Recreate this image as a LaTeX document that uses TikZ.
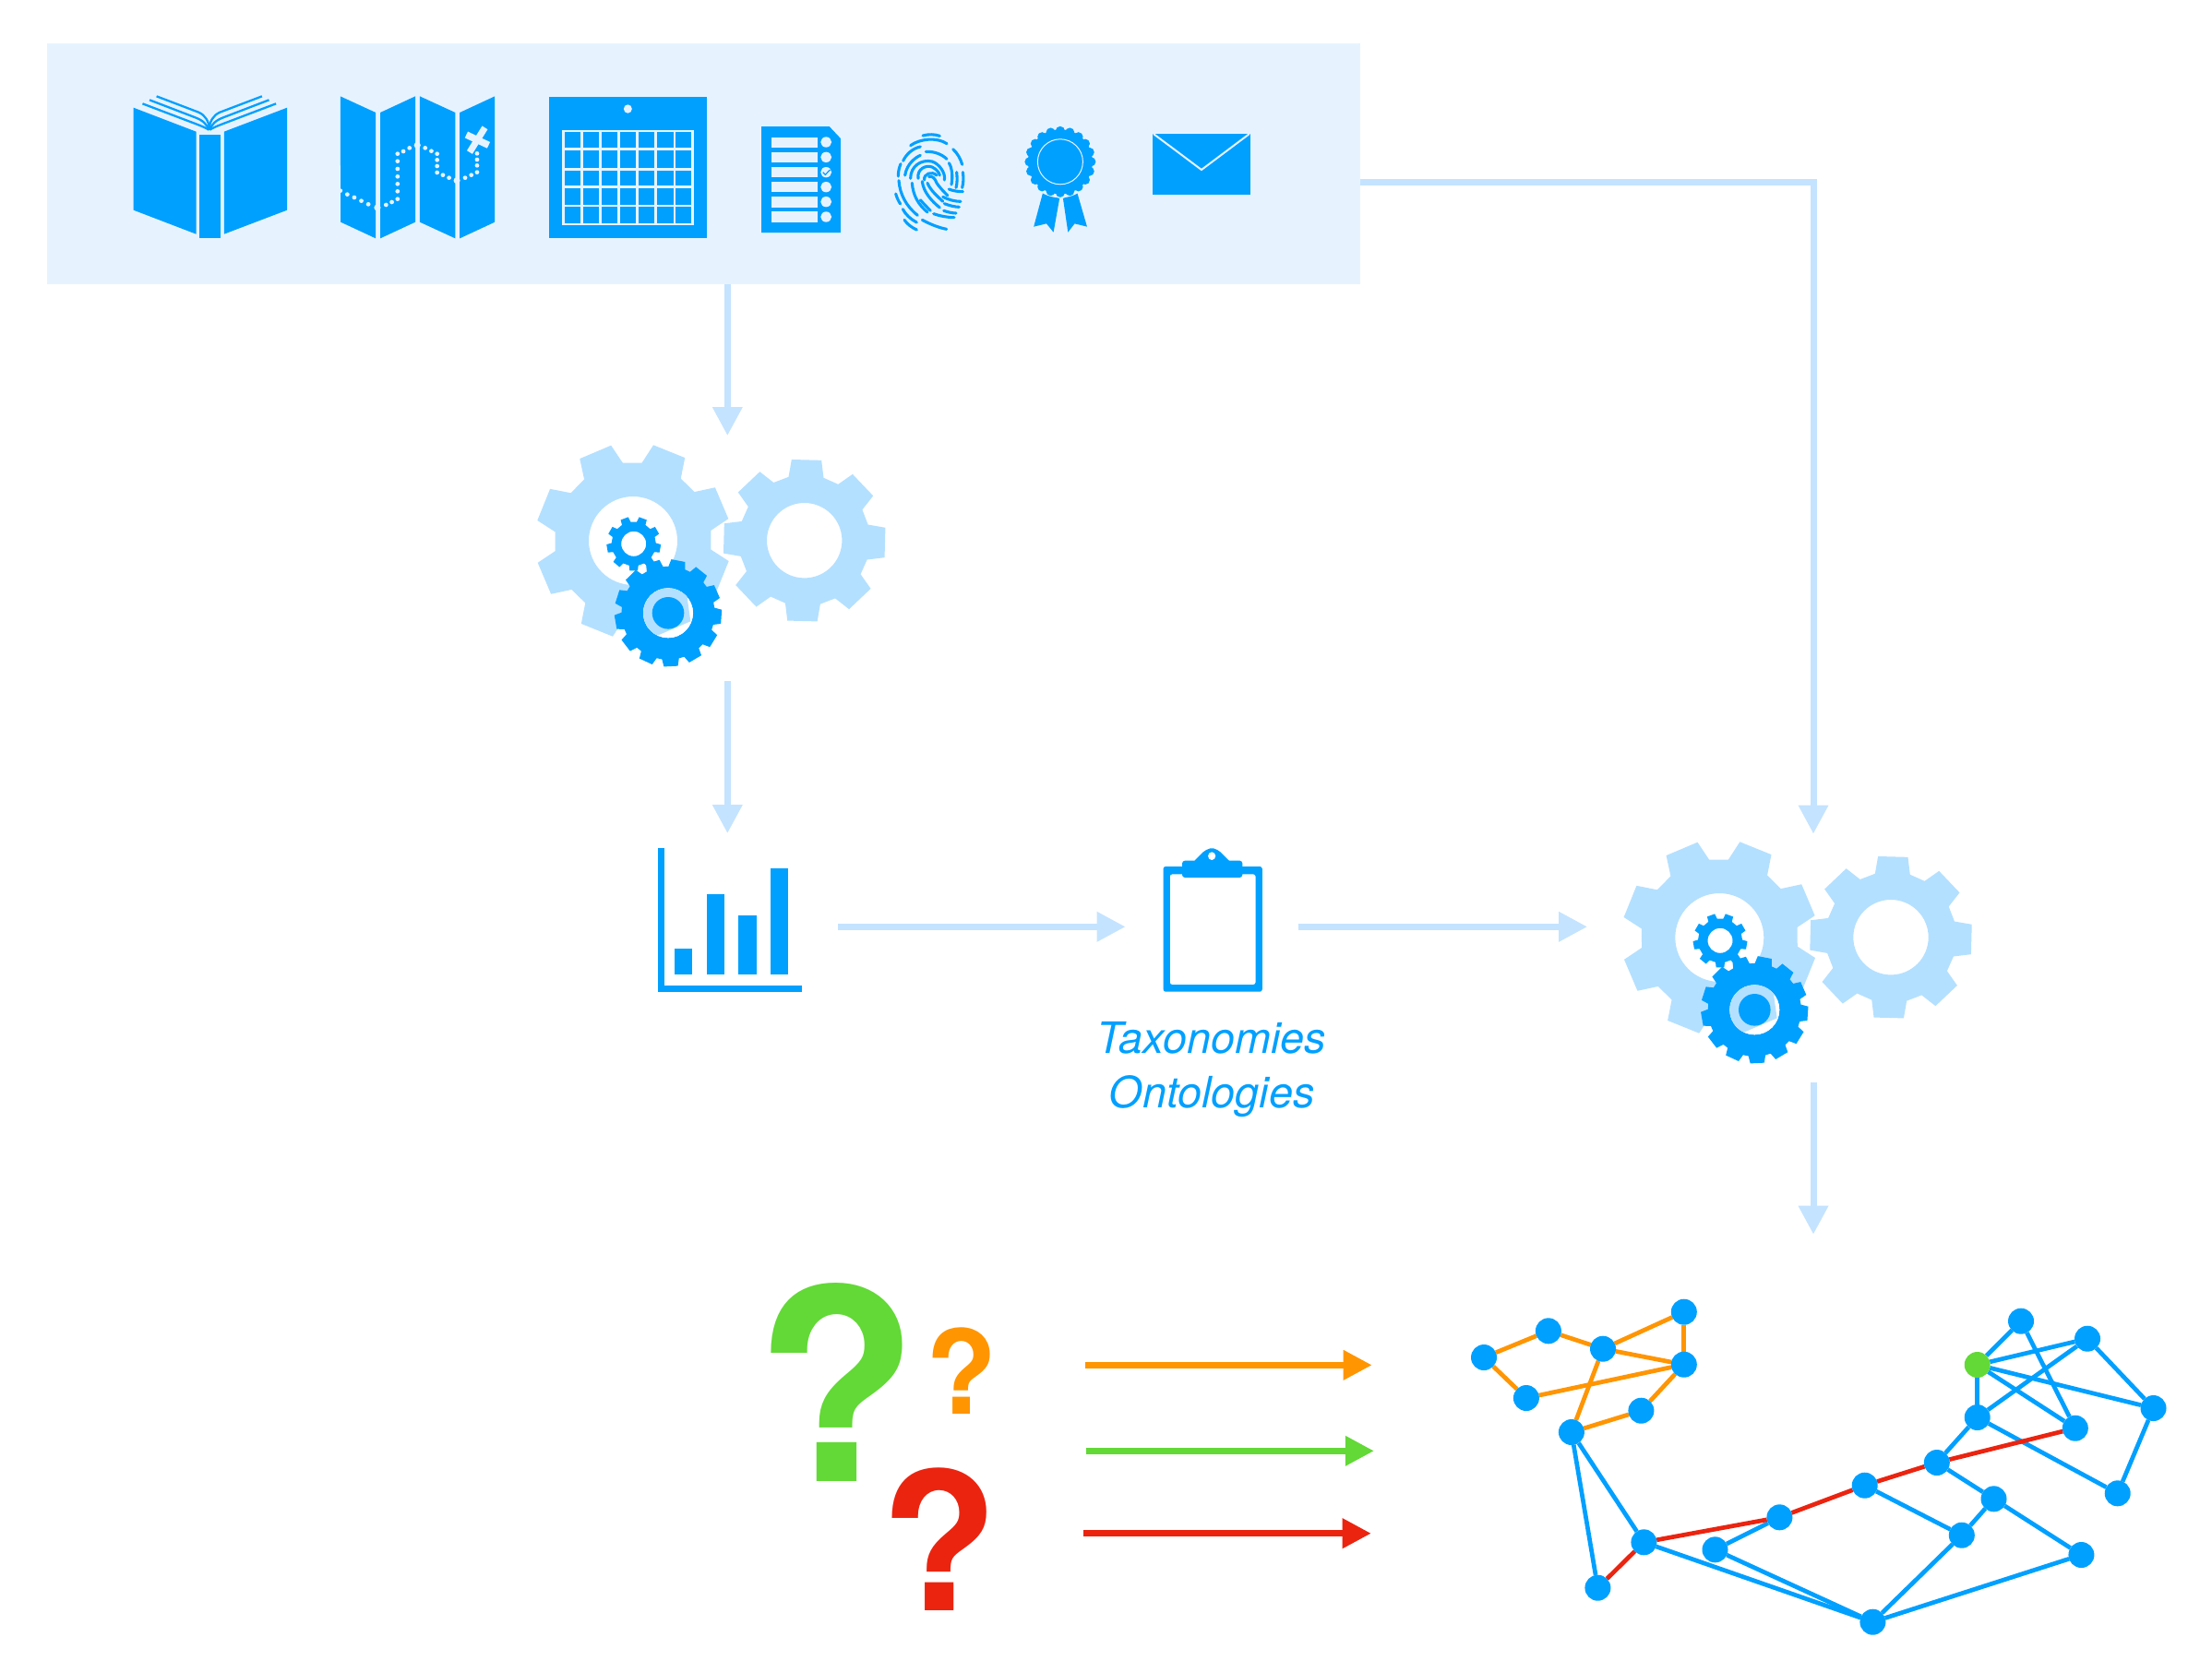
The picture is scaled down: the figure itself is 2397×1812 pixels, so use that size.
\documentclass[tikz,border=0pt]{standalone}
\usepackage{fontspec}
\setmainfont{TeX Gyre Heros}
\usetikzlibrary{arrows.meta,backgrounds}
\definecolor{dk}{HTML}{00A0FF}
\definecolor{pan}{HTML}{E6F3FF}
\definecolor{lg}{HTML}{B4E0FF}
\definecolor{la}{HTML}{C4E3FF}
\definecolor{og}{HTML}{FF9500}
\definecolor{gr}{HTML}{62D936}
\definecolor{rd}{HTML}{EB2410}
\tikzset{
  hitbox/.style={inner sep=0pt,outer sep=0pt,draw=none,fill=none},
  lightarrow/.style={draw=la,line width=7pt,-{Triangle[length=31pt,width=31pt]}},
  colarrow/.style={line width=7pt,-{Triangle[length=31pt,width=31pt]}},
  gnode/.style={circle,fill=dk,minimum size=28pt,inner sep=0pt,outer sep=0pt},
  gedge/.style={line width=4.7pt},
  qmark/.style={inner sep=0pt,outer sep=0pt,anchor=center},
  capt/.style={text=dk,anchor=base,inner sep=0pt,font=\fontsize{46.8}{50}\selectfont\itshape},
  fp/.style={draw=dk,line width=3.1pt,line cap=round},
  zoomA/.style={shift={(100,70)},xscale=0.44643,yscale=0.33333},
  zoomB/.style={shift={(780,110)},xscale=0.38265,yscale=0.33333},
  zoomC/.style={shift={(680,890)},xscale=0.5102,yscale=0.33333},
}
\newcommand{\gearshape}[8]{%
  \fill[#1,even odd rule] ({#5+360/#4-#7}:#3pt)
    \foreach \k in {1,...,#4}{
      -- ({#5+\k*360/#4-#7}:#3pt) -- ({#5+\k*360/#4-#6}:#2pt)
      -- ({#5+\k*360/#4+#6}:#2pt) -- ({#5+\k*360/#4+#7}:#3pt)
    } -- cycle (0,0) circle[radius=#8pt];
}
\newcommand{\geargroup}{%
  \begin{scope}[shift={(686,586)}]\gearshape{lg}{106}{85}{8}{23}{10}{15.5}{48}\end{scope}
  \begin{scope}[shift={(871.7,585.7)}]\gearshape{lg}{88.8}{71}{8}{-1.5}{10.5}{15.5}{40.7}\end{scope}
  \begin{scope}[shift={(686.7,589.3)}]\gearshape{dk}{29.5}{24}{9}{70}{8.5}{12}{13.5}\end{scope}
  \begin{scope}[shift={(724,664.3)}]
    \gearshape{dk}{58.3}{50.5}{13}{-4}{7.5}{10.5}{27}
    \fill[white] (0,0) circle[radius=27pt];
    \begin{scope}
      \clip (0,0) circle[radius=27pt];
      \fill[lg] (21,-40) -- (21,-14.3) -- (24.3,9) -- (-10.7,24) -- (-40,24) -- (-40,-40) -- cycle;
    \end{scope}
    \fill[dk] (0,0) circle[radius=17.3pt];
  \end{scope}
}
\begin{document}
\begin{tikzpicture}[x=1pt,y=-1pt]
\useasboundingbox (0,0) rectangle (2397,1812);
\begin{scope}[on background layer]
  \fill[white] (0,0) rectangle (2397,1812);
\end{scope}

% source panel
\node[fill=pan,inner sep=0pt,outer sep=0pt,minimum width=1423pt,minimum height=261pt,anchor=north west] (panel) at (51,46.7) {};

% book
\begin{scope}[zoomA]
  \fill[dk] (100,140) -- (252,218) -- (252,551) -- (100,473) -- cycle;
  \fill[dk] (320,218) -- (473,140) -- (473,473) -- (320,551) -- cycle;
  \fill[dk] (260,228) rectangle (312,564);
  \foreach \m in {0,1}{
    \begin{scope}[shift={(\m*568,0)},xscale={1-2*\m}]
      \draw[dk,line width=2.3pt] (122,127) -- (240,187) .. controls (262,198) and (275,205) .. (283,212);
      \draw[dk,line width=2.3pt] (139,115) -- (250,172) .. controls (270,182) and (278,195) .. (283,212);
      \draw[dk,line width=2.3pt] (156,103) -- (258,155) .. controls (275,165) and (283,185) .. (285,212);
    \end{scope}
  }
  % map
  \fill[dk] (602,103) -- (688,156) -- (688,565) -- (603,512) -- cycle;
  \fill[dk] (699,156) -- (784,103) -- (784,512) -- (699,565) -- cycle;
  \fill[dk] (795,103) -- (881,156) -- (881,565) -- (795,512) -- cycle;
  \fill[dk] (892,156) -- (977,103) -- (977,512) -- (892,565) -- cycle;
  \foreach \x/\y in {602/410,619/422,636/432,653/443,670/454,713/456,727/447,741/437,741/412,741/388,741/364,741/339,741/314,741/290,755/282,770/271,808/271,823/281,837/290,837/310,837/330,837/351,851/359,866/368,905/368,920/359,934/350,934/328,934/309,934/289}{
    \fill[pan] (\x,\y) circle[x radius=5.4,y radius=7];
  }
  \foreach \x/\y in {692/465,789/262,885/377}{
    \fill[pan] (\x,\y) circle[x radius=8,y radius=10.5];
  }
  \draw[pan,line width=7pt] (953,205) -- (916,285);
  \draw[pan,line width=7.5pt] (908,228) -- (962,262);
  % calendar
  \fill[dk] (1109,105) rectangle (1492,564);
  \fill[pan] (1300,144) circle[x radius=10,y radius=14];
  \draw[pan,line width=2.5pt] (1143,216) rectangle (1457,519);
  \foreach \x in {1188,1233,1278,1323,1368,1413}{\draw[pan,line width=2.5pt] (\x,216) -- (\x,519);}
  \foreach \y in {275,340,398,459}{\draw[pan,line width=2.5pt] (1143,\y) -- (1457,\y);}
\end{scope}

% document, ribbon, envelope
\begin{scope}[zoomB]
  \fill[dk] (118,81) -- (310,81) -- (342,120) -- (342,426) -- (118,426) -- cycle;
  \foreach \a/\b/\c in {116/150/132,164/198/181,212/246/230,260/294/278,309/344/326,358/393/375}{
    \fill[pan] (146,\a) rectangle (277,\b);
    \fill[pan] (301,\c) circle[x radius=15.5,y radius=17];
  }
  \draw[dk,line width=1.2pt] (292,230) -- (299,238) -- (312,222);
  \fill[dk] (915,296) -- (962,315) -- (945,425) -- (925,397) -- (889,407) -- cycle;
  \fill[dk] (1012,296) -- (1040,407) -- (1005,397) -- (986,425) -- (972,315) -- cycle;
  \fill[dk] (1226,105) rectangle (1503,303);
  \draw[pan,line width=2pt] (1228,105) -- (1364,222) -- (1500,105);
\end{scope}
\begin{scope}[shift={(1148.9,175.3)}]
  \fill[pan] (0,0) circle[radius=39pt];
  \foreach \a in {0,18,...,342}{\fill[dk] (\a:33.5pt) circle[radius=5pt];}
  \fill[dk] (0,0) circle[radius=35pt];
  \draw[pan,line width=1pt] (0,0) circle[radius=24.5pt];
\end{scope}

% fingerprint
\begin{scope}[shift={(960,135)},scale=0.33333]
  \draw[fp] (120,36) .. controls (138,31) and (158,31) .. (175,37);
  \draw[fp] (80,68) .. controls (110,46) and (165,40) .. (198,62);
  \draw[fp] (40,168) .. controls (40,150) and (44,138) .. (48,128);
  \draw[fp] (56,118) .. controls (65,98) and (85,78) .. (112,72);
  \draw[fp] (130,88) .. controls (155,87) and (180,95) .. (198,112);
  \draw[fp] (218,80) .. controls (232,92) and (243,112) .. (248,130);
  \draw[fp] (250,155) .. controls (253,172) and (252,190) .. (248,205);
  \draw[fp] (230,155) .. controls (232,175) and (232,190) .. (228,205);
  \draw[fp] (205,125) .. controls (215,140) and (218,170) .. (213,195);
  \draw[fp] (42,182) .. controls (45,225) and (65,265) .. (103,295);
  \draw[fp] (32,225) .. controls (36,238) and (40,248) .. (47,258);
  \draw[fp] (55,275) .. controls (62,290) and (80,308) .. (100,318);
  \draw[fp] (60,310) .. controls (70,325) and (85,335) .. (100,342);
  \draw[fp] (118,310) .. controls (140,322) and (170,335) .. (197,340);
  \draw[fp] (62,165) .. controls (68,125) and (100,105) .. (112,100);
  \draw[fp] (80,175) .. controls (80,135) and (115,112) .. (150,120) .. controls (175,128) and (195,160) .. (190,180);
  \draw[fp] (85,190) .. controls (88,230) and (105,260) .. (135,285);
  \draw[fp] (105,175) .. controls (100,145) and (130,130) .. (150,138) .. controls (165,145) and (172,155) .. (175,165);
  \draw[fp] (140,170) .. controls (150,165) and (160,175) .. (165,190) .. controls (175,205) and (190,220) .. (200,230);
  \draw[fp] (125,180) .. controls (122,160) and (150,150) .. (165,165);
  \draw[fp] (135,190) .. controls (145,215) and (170,235) .. (185,250);
  \draw[fp] (118,185) .. controls (122,220) and (150,250) .. (175,270);
  \draw[fp] (205,210) .. controls (220,216) and (235,218) .. (250,218);
  \draw[fp] (185,235) .. controls (205,245) and (225,250) .. (243,250);
  \draw[fp] (190,257) .. controls (205,263) and (225,268) .. (238,268);
  \draw[fp] (188,280) .. controls (200,284) and (215,288) .. (228,288);
  \draw[fp] (112,245) .. controls (125,260) and (135,270) .. (145,280);
  \draw[fp] (155,290) .. controls (175,297) and (200,302) .. (222,302);
\end{scope}

% gears
\node[hitbox,minimum width=440pt,minimum height=266pt] (gearsA) at (788.3,605) {};
\geargroup
\node[hitbox,minimum width=490pt,minimum height=269pt] (gearsB) at (1965,1038) {};
\begin{scope}[shift={(1177.3,430)}]\geargroup\end{scope}

% chart
\node[hitbox,minimum width=239.4pt,minimum height=202.6pt] (chart) at (788.3,1004.3) {};
\begin{scope}[zoomC]
  \fill[dk] (65,87) rectangle (78,554);
  \fill[dk] (65,534) rectangle (370,554);
  \fill[dk] (100,413) rectangle (137,497);
  \fill[dk] (168,237) rectangle (206,497);
  \fill[dk] (235,306) rectangle (274,497);
  \fill[dk] (304,153) rectangle (341,497);
  % clipboard
  \fill[dk,even odd rule,rounded corners=2.5pt] (1138,147) rectangle (1348,554) (1152,172) rectangle (1334,531);
  \fill[dk,rounded corners=3pt] (1178,183) -- (1178,128) -- (1306,128) -- (1306,183) -- cycle;
  \fill[dk,rounded corners=2pt] (1200,135) -- (1226,95) -- (1241,86) -- (1256,95) -- (1282,135) -- cycle;
  \fill[white] (1241,113) circle[x radius=8,y radius=13];
\end{scope}
\node[hitbox,minimum width=187pt,minimum height=202.6pt] (clip) at (1313,1004.3) {};
\node[capt] (tax) at (1313,1141.7) {Taxonomies};
\node[capt] (ont) at (1313,1200) {Ontologies};

% light connectors
\coordinate (panelExit) at (1474,197);
\draw[lightarrow] (panel.south -| gearsA.north) -- (gearsA.north);
\draw[lightarrow] (gearsA.south) -- (chart.north);
\draw[lightarrow] (chart.east) -- (clip.west);
\draw[lightarrow] (clip.east) -- (clip.east -| gearsB.west);
\draw[lightarrow] (panelExit) -| (gearsB.north);
\node[hitbox,minimum width=760pt,minimum height=442pt] (graph) at (1965,1558.6) {};
\draw[lightarrow] (gearsB.south) -- (graph.north);

% questions
\node[qmark,text=gr,font=\fontsize{289}{300}\selectfont\bfseries] (qg) at (907,1498) {?};
\node[qmark,text=og,font=\fontsize{126}{130}\selectfont\bfseries] (qo) at (1041.5,1485.7) {?};
\node[qmark,text=rd,font=\fontsize{208}{215}\selectfont\bfseries] (qr) at (1018,1668) {?};

% question arrows
\coordinate (oS) at (1176,1479.3); \coordinate (oE) at (1486.6,1479.3);
\coordinate (gS) at (1176.8,1572.3); \coordinate (gE) at (1488.8,1572.3);
\coordinate (rS) at (1174,1661.7); \coordinate (rE) at (1485.7,1661.7);
\draw[colarrow,draw=og] (oS) -- (oE);
\draw[colarrow,draw=gr] (gS) -- (gE);
\draw[colarrow,draw=rd] (rS) -- (rE);

% graph
\foreach \n/\x/\y in {a/1608/1471,b/1677.9/1442.3,c/1737/1461.7,d/1824.8/1421.7,e/1824.8/1478.7,f/1653.9/1515,g/1778.4/1528.7,h/1702.9/1552,i/1781.4/1671.3,j/1731.4/1720.7,k/1858.5/1679.3,l/1928.4/1644.3,m/2020.7/1609.7,n/2098.8/1585,o/2160.5/1624.3,p/2125.8/1663.7,q/2255.4/1685,r/2029.4/1757.7,s/2142.7/1536,t/2248.8/1547.7,u/2294.7/1618.3,v/2333.5/1526,w/2262/1450.7,x/2190/1431.7}{
  \node[gnode] (\n) at (\x,\y) {};
}
\node[gnode,fill=gr] (y) at (2142.7,1479) {};
\begin{scope}[on background layer]
  \foreach \p/\q in {a/b,b/c,c/d,d/e,c/e,f/e,a/f,c/h,h/g,g/e}{\draw[gedge,og] (\p) -- (\q);}
  \foreach \p/\q in {h/j,h/i,i/r,k/l,k/r,m/p,p/o,n/o,o/q,q/r,p/r,n/s,s/y,s/w,s/u,u/v,v/w,v/y,y/w,y/x,x/t,y/t}{\draw[gedge,dk] (\p) -- (\q);}
  \foreach \p/\q in {i/j,i/l,l/m,m/n,n/t}{\draw[gedge,rd] (\p) -- (\q);}
\end{scope}
\end{tikzpicture}
\end{document}
